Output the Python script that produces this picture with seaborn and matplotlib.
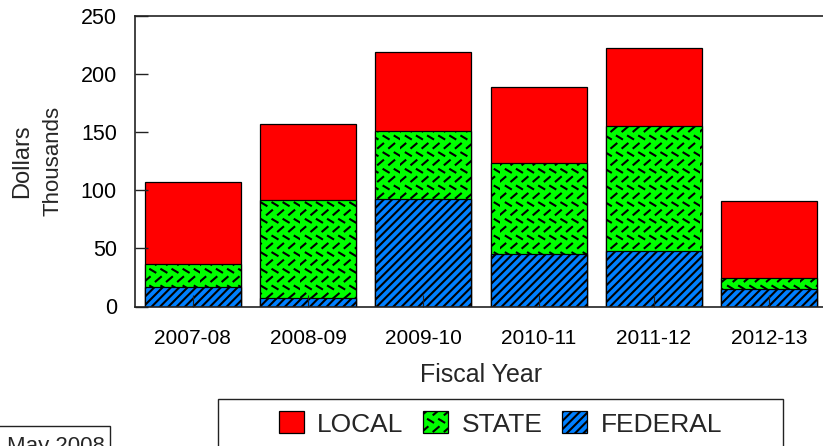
import numpy as np
import matplotlib
matplotlib.use("Agg")
import matplotlib.pyplot as plt
import matplotlib.hatch as mhatch
from matplotlib.path import Path
from matplotlib.patches import Patch, Rectangle
import seaborn as sns

# ---------------- data ----------------
years = ["2007-08", "2008-09", "2009-10", "2010-11", "2011-12", "2012-13"]
federal = [17, 7.5, 92.5, 45.5, 48, 15]
state = [20, 84, 58.5, 78, 107.5, 9.5]
local = [70, 65.5, 68, 65.5, 67, 66.5]
series_names = ["LOCAL", "STATE", "FEDERAL"]
yticks = [0, 50, 100, 150, 200, 250]

# ---------------- custom dash hatch (replaces '*') ----------------
class DashHatch(mhatch.HatchPatternBase):
    def __init__(self, hatch, density):
        n = hatch.count('*')
        self.nx, self.ny = 9, 6
        self.num_dashes = 2 * self.nx * self.ny if n else 0
        self.num_vertices = 2 * self.num_dashes

    def set_vertices_and_codes(self, vertices, codes):
        k = 0
        L = 0.026
        for j in range(self.ny):
            for i in range(self.nx):
                cx = (i + 0.25) / self.nx
                cy = (j + 0.25) / self.ny
                vertices[k] = (cx - L, cy - L * 0.85)
                vertices[k + 1] = (cx + L, cy + L * 0.85)
                codes[k] = Path.MOVETO
                codes[k + 1] = Path.LINETO
                k += 2
                cx = (i + 0.75) / self.nx
                cy = (j + 0.75) / self.ny
                vertices[k] = (cx - L, cy + L * 0.6)
                vertices[k + 1] = (cx + L, cy - L * 0.6)
                codes[k] = Path.MOVETO
                codes[k + 1] = Path.LINETO
                k += 2

mhatch._hatch_types = [t for t in mhatch._hatch_types if t is not mhatch.Stars] + [DashHatch]

# ---------------- style ----------------
sns.set_theme(style="ticks")
plt.rcParams['font.family'] = ['Liberation Sans', 'DejaVu Sans']
plt.rcParams['hatch.linewidth'] = 1.5
plt.rcParams['hatch.color'] = 'black'

colors = {"LOCAL": "#ff0000", "STATE": "#00ff00", "FEDERAL": "#0080ff"}
hatches = {"LOCAL": None, "STATE": "*", "FEDERAL": "////"}

W, H = 823, 446
fig = plt.figure(figsize=(W / 100, H / 100), dpi=100)
ax = fig.add_axes([135 / W, 1 - 306.5 / H, (827 - 135) / W, (306.5 - 16) / H])

fed = np.array(federal, dtype=float)
sta = np.array(state, dtype=float)
loc = np.array(local, dtype=float)
layers = [("LOCAL", fed + sta + loc), ("STATE", fed + sta), ("FEDERAL", fed)]

for name, heights in layers:
    sns.barplot(x=years, y=heights, color=colors[name], saturation=1,
                width=0.83, edgecolor="black", linewidth=0.9,
                hatch=hatches[name], ax=ax)

ax.set_ylim(0, 250)
ax.set_xlim(-0.5, len(years) - 0.5)
ax.set_yticks(yticks)
ax.set_yticklabels([str(v) for v in yticks])
ax.set_xlabel("")
ax.set_ylabel("")
ax.set_axisbelow(False)

for s in ["left", "bottom", "top", "right"]:
    ax.spines[s].set_visible(True)
    ax.spines[s].set_color("#222222")
    ax.spines[s].set_linewidth(1.2)

ax.tick_params(axis="y", direction="in", length=9.5, width=1, color="#222222",
               labelsize=15.5, pad=13, labelcolor="black")
ax.tick_params(axis="x", direction="in", length=9, width=0.8, color="#222222",
               labelsize=15, pad=16, labelcolor="black")

fig.text(481 / W, 1 - 375 / H, "Fiscal Year", ha="center", va="center", fontsize=18)
fig.text(22 / W, 1 - 161 / H, "Dollars", rotation=90, ha="center", va="center", fontsize=17)
fig.text(53 / W, 1 - 161 / H, "Thousands", rotation=90, ha="center", va="center", fontsize=16)

# legend
handles = [Patch(facecolor=colors[n], edgecolor="black", linewidth=0.9, hatch=hatches[n])
           for n in series_names]
leg = fig.legend(handles, series_names, loc="center", ncol=3,
                 bbox_to_anchor=(500.5 / W, 1 - 424 / H), frameon=False,
                 fontsize=19, handlelength=0.95, handleheight=0.9,
                 handletextpad=0.5, columnspacing=0.75, borderpad=0)
fig.patches.append(Rectangle((218 / W, 1 - 455 / H), (783 - 218) / W, (455 - 399) / H,
                             transform=fig.transFigure, facecolor="none",
                             edgecolor="#222222", linewidth=1.0))

# date box (cut off at the bottom edge, as in the reference)
fig.patches.append(Rectangle((-2 / W, 1 - 460 / H), 112 / W, (460 - 426) / H,
                             transform=fig.transFigure, facecolor="white",
                             edgecolor="#222222", linewidth=1.0))
fig.text(7 / W, 1 - 452 / H, "May 2008", ha="left", va="baseline", fontsize=16)

fig.savefig("out.png", dpi=100)
